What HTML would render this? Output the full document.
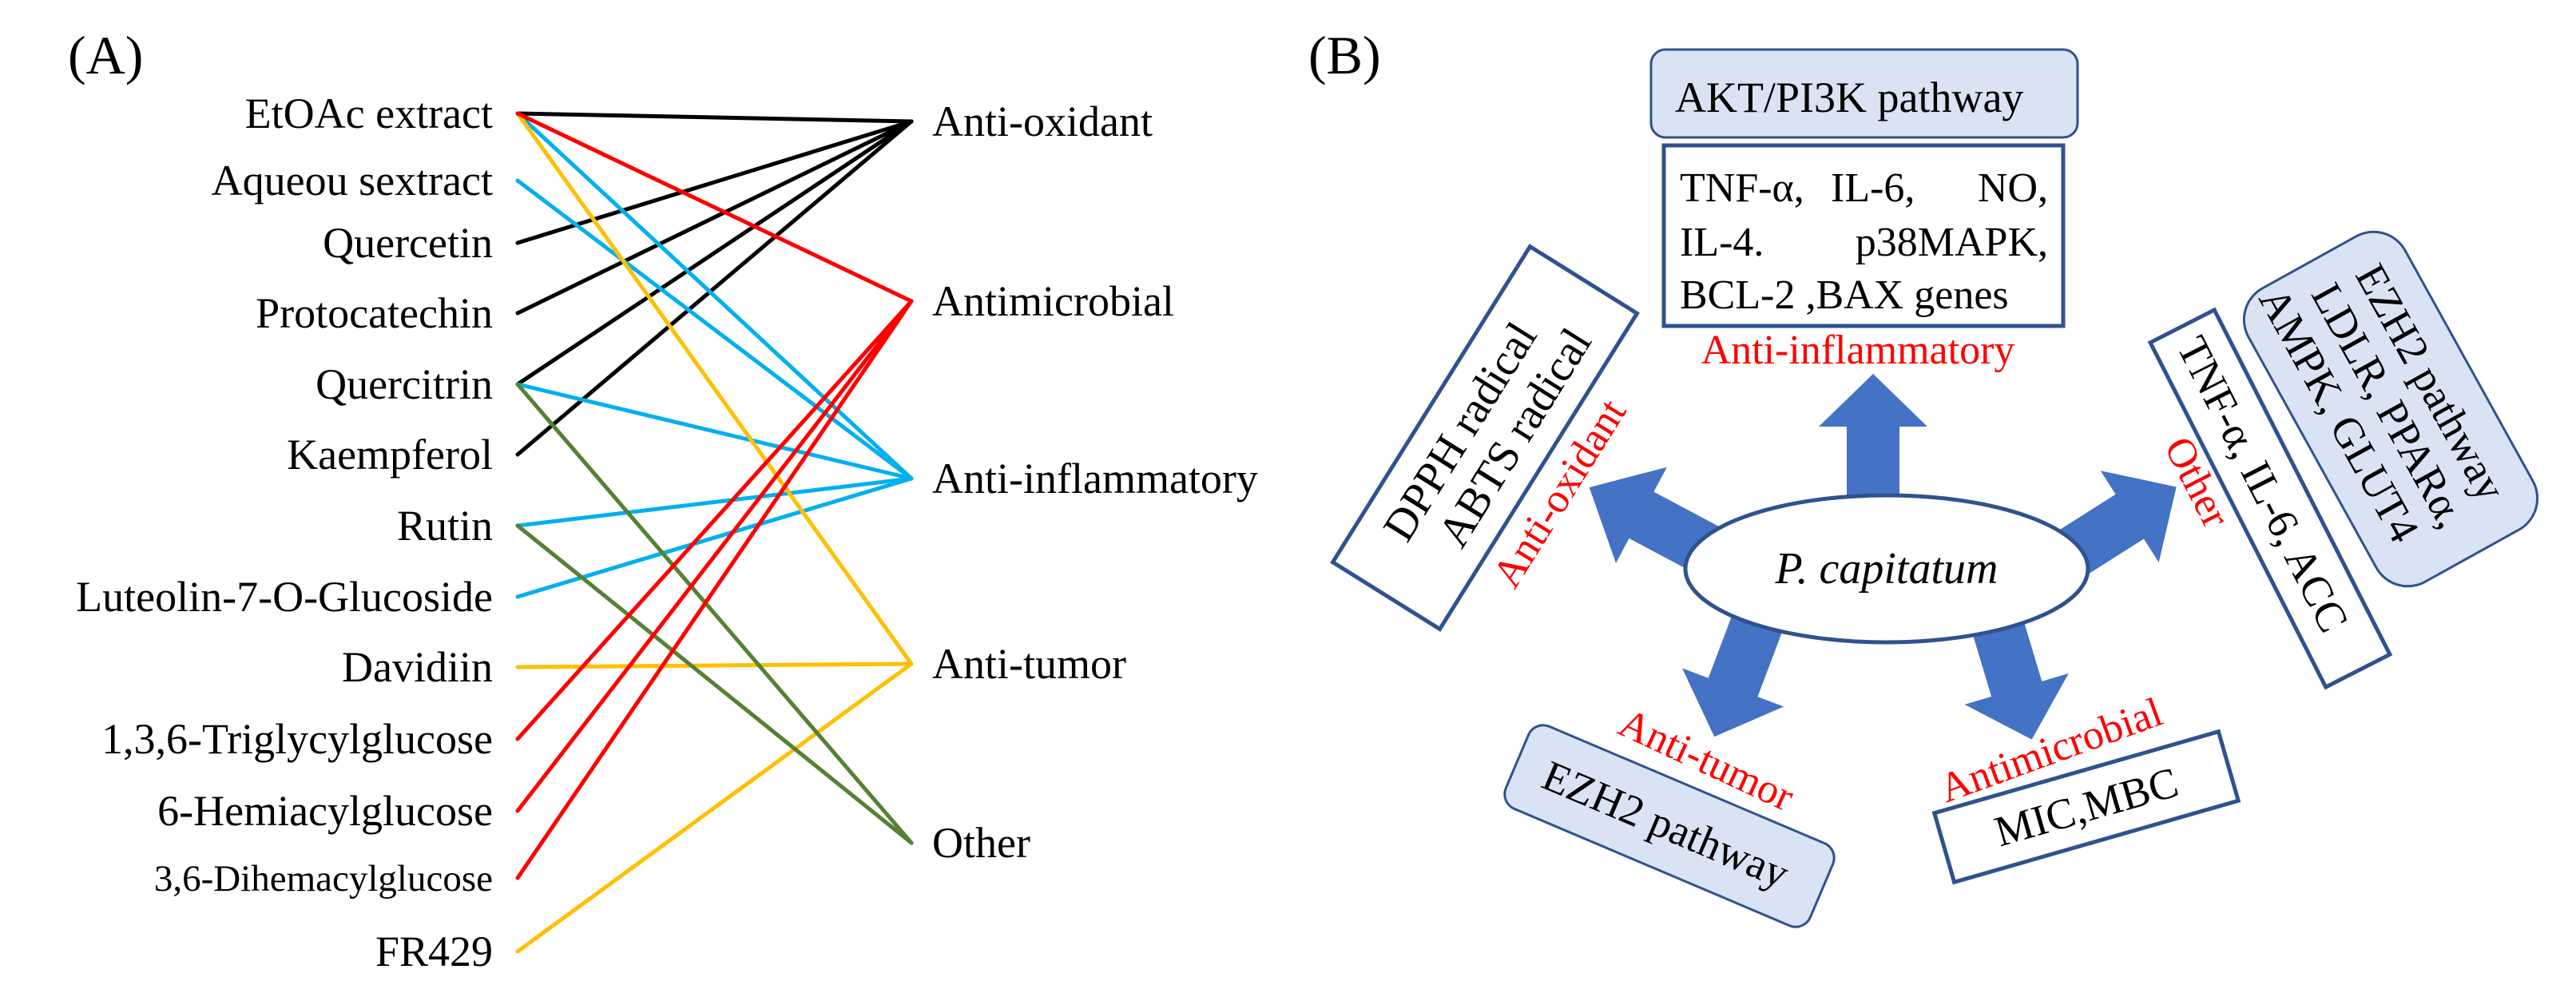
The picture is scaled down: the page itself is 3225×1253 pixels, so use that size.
<!DOCTYPE html>
<html><head><meta charset="utf-8"><style>
html,body{margin:0;padding:0;background:#fff}
svg{display:block}
text{font-family:"Liberation Serif",serif}
</style></head><body>
<svg width="3225" height="1253" viewBox="0 0 3225 1253" xmlns="http://www.w3.org/2000/svg">
<defs>
<path id="arr" d="M0,-33 L86,-33 L86,-68 L152,0 L86,68 L86,33 L0,33 Z" fill="#4472c4"/>
</defs>
<!-- Panel A -->
<text x="85" y="92" font-size="68">(A)</text>
<g font-size="54" text-anchor="end" fill="#000">
<text x="617" y="160">EtOAc extract</text>
<text x="617" y="244">Aqueou sextract</text>
<text x="617" y="322">Quercetin</text>
<text x="617" y="410">Protocatechin</text>
<text x="617" y="499">Quercitrin</text>
<text x="617" y="587">Kaempferol</text>
<text x="617" y="676">Rutin</text>
<text x="617" y="765">Luteolin-7-O-Glucoside</text>
<text x="617" y="853">Davidiin</text>
<text x="617" y="943">1,3,6-Triglycylglucose</text>
<text x="617" y="1033">6-Hemiacylglucose</text>
<text x="617" y="1115" font-size="47">3,6-Dihemacylglucose</text>
<text x="617" y="1209">FR429</text>
</g>
<g font-size="54" fill="#000">
<text x="1167" y="170">Anti-oxidant</text>
<text x="1167" y="395">Antimicrobial</text>
<text x="1167" y="617">Anti-inflammatory</text>
<text x="1167" y="849">Anti-tumor</text>
<text x="1167" y="1073">Other</text>
</g>
<g stroke-width="5" fill="none" stroke-linecap="round">
<g stroke="#000">
<line x1="648" y1="142" x2="1141" y2="152"/>
<line x1="648" y1="304" x2="1141" y2="152"/>
<line x1="648" y1="392" x2="1141" y2="152"/>
<line x1="648" y1="481" x2="1141" y2="152"/>
<line x1="648" y1="569" x2="1141" y2="152"/>
</g>
<g stroke="#00b0f0">
<line x1="648" y1="142" x2="1141" y2="599"/>
<line x1="648" y1="226" x2="1141" y2="599"/>
<line x1="648" y1="481" x2="1141" y2="599"/>
<line x1="648" y1="658" x2="1141" y2="599"/>
<line x1="648" y1="747" x2="1141" y2="599"/>
</g>
<g stroke="#ffc000">
<line x1="648" y1="142" x2="1141" y2="831"/>
<line x1="648" y1="835" x2="1141" y2="831"/>
<line x1="648" y1="1191" x2="1141" y2="831"/>
</g>
<g stroke="#548235">
<line x1="648" y1="481" x2="1141" y2="1055"/>
<line x1="648" y1="658" x2="1141" y2="1055"/>
</g>
<g stroke="#ff0000">
<line x1="648" y1="142" x2="1141" y2="377"/>
<line x1="648" y1="925" x2="1141" y2="377"/>
<line x1="648" y1="1015" x2="1141" y2="377"/>
<line x1="648" y1="1099" x2="1141" y2="377"/>
</g>
</g>

<!-- Panel B -->
<text x="1638" y="92" font-size="68">(B)</text>
<rect x="2067" y="62" width="534" height="110" rx="18" fill="#dae3f3" stroke="#2f528f" stroke-width="3"/>
<text x="2097" y="140" font-size="54">AKT/PI3K  pathway</text>
<rect x="2083" y="182" width="500" height="226" fill="#fff" stroke="#2f528f" stroke-width="5"/>
<g font-size="52">
<text x="2103" y="252">TNF-α,</text>
<text x="2292" y="252">IL-6,</text>
<text x="2564" y="252" text-anchor="end">NO,</text>
<text x="2103" y="320">IL-4.</text>
<text x="2564" y="320" text-anchor="end">p38MAPK,</text>
<text x="2103" y="386">BCL-2 ,BAX  genes</text>
</g>
<text x="2326" y="455" font-size="52" fill="#ff0000" text-anchor="middle">Anti-inflammatory</text>

<use href="#arr" transform="translate(2345,620) rotate(-90)"/>
<use href="#arr" transform="translate(2140,690) rotate(208) scale(1.12,1)"/>
<use href="#arr" transform="translate(2590,695) rotate(-32.4) scale(1.05,1)"/>
<use href="#arr" transform="translate(2200,780) rotate(110.7)"/>
<use href="#arr" transform="translate(2500,780) rotate(73.3)"/>

<ellipse cx="2362" cy="712" rx="252" ry="92" fill="#fff" stroke="#2f528f" stroke-width="5"/>
<text x="2362" y="730" font-size="56" font-style="italic" text-anchor="middle">P. capitatum</text>

<!-- Anti-oxidant -->
<g transform="translate(1859,548) rotate(-58)">
<rect x="-233" y="-79" width="466" height="158" fill="#fff" stroke="#2f528f" stroke-width="5"/>
<text x="-10" y="-12" font-size="56" text-anchor="middle">DPPH radical</text>
<text x="20" y="50" font-size="56" text-anchor="middle">ABTS radical</text>
</g>
<text transform="translate(1953,618) rotate(-58)" font-size="52" fill="#ff0000" text-anchor="middle" dy="16">Anti-oxidant</text>

<!-- Other -->
<g transform="translate(2993,512) rotate(61)">
<rect x="-210" y="-112" width="420" height="224" rx="45" fill="#dae3f3" stroke="#2f528f" stroke-width="3"/>
<text x="-5" y="-42" font-size="54" text-anchor="middle">EZH2 pathway</text>
<text x="-5" y="18" font-size="54" text-anchor="middle">LDLR, PPARα,</text>
<text x="-25" y="78" font-size="54" text-anchor="middle">AMPK, GLUT4</text>
</g>
<g transform="translate(2842,624) rotate(63)">
<rect x="-242" y="-45" width="484" height="90" fill="#fff" stroke="#2f528f" stroke-width="5"/>
<text x="-20" y="18" font-size="54" text-anchor="middle">TNF-α, IL-6, ACC</text>
</g>
<text transform="translate(2750,604) rotate(63)" font-size="52" fill="#ff0000" text-anchor="middle" dy="16">Other</text>

<!-- Anti-tumor -->
<g transform="translate(2090,1034) rotate(23)">
<rect x="-207" y="-56" width="414" height="112" rx="20" fill="#dae3f3" stroke="#2f528f" stroke-width="3"/>
<text x="-5" y="18" font-size="54" text-anchor="middle">EZH2 pathway</text>
</g>
<text transform="translate(2136,952) rotate(25)" font-size="52" fill="#ff0000" text-anchor="middle" dy="16">Anti-tumor</text>

<!-- Antimicrobial -->
<g transform="translate(2612,1010) rotate(-16)">
<rect x="-185" y="-45" width="370" height="90" fill="#fff" stroke="#2f528f" stroke-width="5"/>
<text x="0" y="18" font-size="54" text-anchor="middle">MIC,MBC</text>
</g>
<text transform="translate(2568,940) rotate(-20)" font-size="52" fill="#ff0000" text-anchor="middle" dy="16">Antimicrobial</text>
</svg>
</body></html>
